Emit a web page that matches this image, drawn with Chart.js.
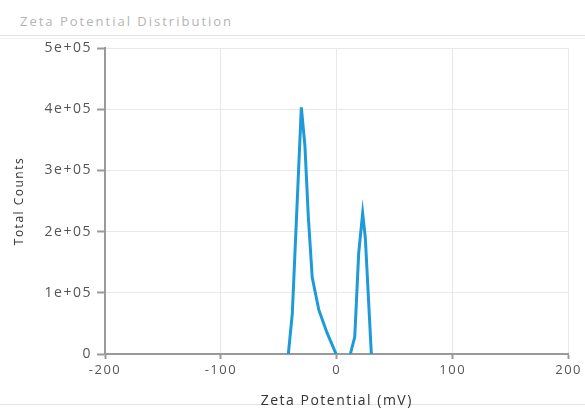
<!DOCTYPE html>
<html>
<head>
<meta charset="utf-8">
<script src="https://cdn.jsdelivr.net/npm/chart.js@4"></script>
<style>
    html, body { margin: 0; padding: 0; background: #fff; }
    #wrap { position: relative; width: 585px; height: 409px; overflow: hidden; }
    #titulo { position: absolute; left: 20px; top: 12px; font-family: "Open Sans", sans-serif; font-size: 13px; letter-spacing: 2px; color: #b4b4b4; }
    .linha { position: absolute; left: 0; width: 585px; height: 1px; background: #e4e4e4; }
    #chart { position: absolute; left: 0; top: 0; }
</style>
</head>
<body>
<div id="wrap">
    <div id="titulo">Zeta Potential Distribution</div>
    <div class="linha" style="top:35px"></div>
    <div class="linha" style="top:38px; background:#f2f2f2"></div>
    <div class="linha" style="top:404px"></div>
    <canvas id="chart" width="585" height="409"></canvas>
</div>
<script>
// Dados
const potencial = [-41.8, -38.4, -30.6, -27.5, -24.6, -21.2, -15.5, -8.3, -0.6, 5, 11.7, 15.5, 18.9, 22.3, 24.6, 29.8];
const contagens = [0, 66000, 403000, 340000, 225000, 125000, 72000, 34000, 0, null, 0, 28000, 165000, 230000, 190000, 0];
const yTickLabels = ['0', '1e+05', '2e+05', '3e+05', '4e+05', '5e+05'];

const COR_LINHA = '#1e9ad8';
const COR_EIXO = '#9a9a9a';
const COR_GRADE = '#e8e8e8';
const FONTE = "'Open Sans', 'Noto Sans', sans-serif";

const pontos = potencial.map((x, i) => ({ x: x, y: contagens[i] }));

// texto mais espaçado, como na imagem original
const espacamento = {
    id: 'espacamento',
    beforeUpdate: (chart) => { chart.ctx.letterSpacing = '1.5px'; },
    beforeDraw: (chart) => { chart.ctx.letterSpacing = '1.5px'; }
};

new Chart(document.getElementById('chart'), {
    type: 'line',
    data: {
        datasets: [{
            data: pontos,
            borderColor: COR_LINHA,
            borderWidth: 3,
            pointRadius: 0,
            tension: 0,
            spanGaps: false
        }]
    },
    options: {
        responsive: false,
        animation: false,
        layout: { padding: { top: 48, right: 15, bottom: 0, left: 0 } },
        plugins: { legend: { display: false }, tooltip: { enabled: false } },
        scales: {
            x: {
                type: 'linear',
                min: -200,
                max: 200,
                afterFit: (s) => { s.height = 55; },
                ticks: { stepSize: 100, color: '#555', padding: 3, font: { family: FONTE, size: 13 } },
                grid: { color: COR_GRADE, tickColor: COR_EIXO, tickLength: 5, tickWidth: 2 },
                border: { color: COR_EIXO, width: 2 },
                title: { display: true, text: 'Zeta Potential (mV)', color: '#333', padding: { top: 0, bottom: 0 }, font: { family: FONTE, size: 14 } }
            },
            y: {
                min: 0,
                max: 500000,
                afterFit: (s) => { s.width = 105; },
                ticks: {
                    stepSize: 100000,
                    color: '#555',
                    padding: 5,
                    font: { family: FONTE, size: 14 },
                    callback: (v, i) => yTickLabels[i]
                },
                grid: { color: COR_GRADE, tickColor: COR_EIXO, tickLength: 8, tickWidth: 2 },
                border: { color: COR_EIXO, width: 2 },
                title: { display: true, text: 'Total Counts', color: '#333', padding: { top: 12, bottom: 0 }, font: { family: FONTE, size: 12 } }
            }
        }
    },
    plugins: [espacamento]
});
</script>
</body>
</html>
